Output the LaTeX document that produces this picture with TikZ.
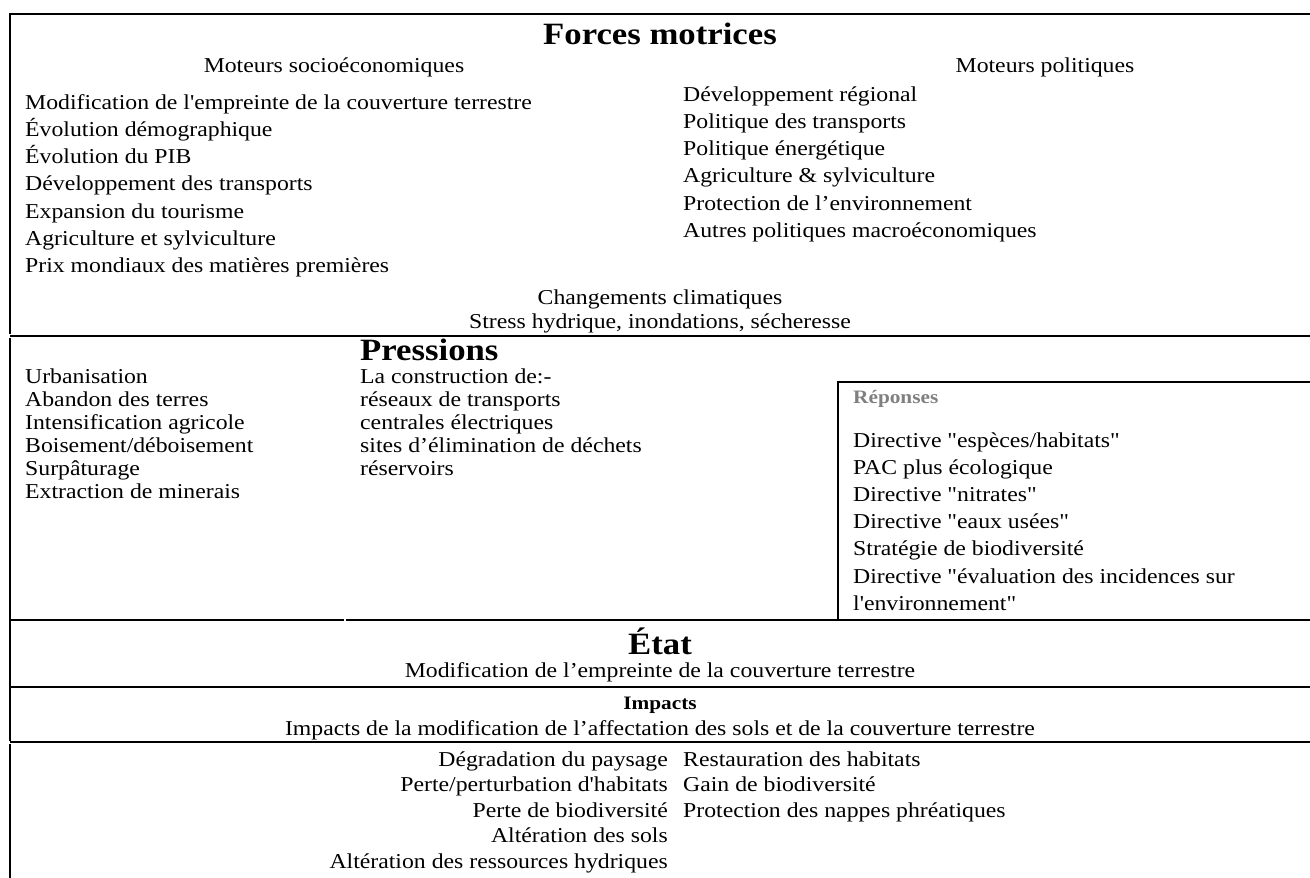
\documentclass[tikz,border=0pt]{standalone}
\usepackage{fontspec}
\setmainfont{Liberation Serif}[Ligatures=TeXOff, FakeStretch=1.12]
\usetikzlibrary{positioning}
\definecolor{gristitre}{RGB}{128,128,128}
\tikzset{
  trait/.style={line width=1.3pt},
  texte/.style={inner sep=0pt, font=\fontsize{21.2}{25}\selectfont},
  titre/.style={inner sep=0pt, font=\fontsize{31}{35}\selectfont\bfseries},
  soustitre/.style={inner sep=0pt, font=\fontsize{19}{23}\selectfont\bfseries},
}

\begin{document}
\begin{tikzpicture}[x=1pt,y=-1pt]
    \useasboundingbox (0,0) rectangle (1310,878);
    % cadres
    \draw[trait] (1310,14) -- (10,14) -- (10,334);
    \draw[trait] (10,336) -- (1310,336);
    \draw[trait] (10,338) -- (10,741);
    \draw[trait] (838,620) -- (838,382) -- (1310,382);
    \draw[trait] (10,620) -- (344,620);
    \draw[trait] (346,620) -- (1310,620);
    \draw[trait] (10,687) -- (1310,687);
    \draw[trait] (10,742) -- (1310,742);
    \draw[trait] (10,744) -- (10,878);

    % forces motrices
    \node[titre, anchor=base] (forces) at (660,45) {Forces motrices};
    \node[texte, anchor=base] (socio) at (334,72) {Moteurs socioéconomiques};
    \node[texte, anchor=base] (politique) at (1045,72) {Moteurs politiques};
    \foreach \t [count=\i from 0] in {{Modification de l'empreinte de la couverture terrestre},
        {Évolution démographique}, {Évolution du PIB}, {Développement des transports},
        {Expansion du tourisme}, {Agriculture et sylviculture},
        {Prix mondiaux des matières premières}}
        \node[texte, anchor=base west] (socio-\i) at (25,109+27.3*\i) {\t};
    \foreach \t [count=\i from 0] in {{Développement régional}, {Politique des transports},
        {Politique énergétique}, {Agriculture \& sylviculture},
        {Protection de l’environnement}, {Autres politiques macroéconomiques}}
        \node[texte, anchor=base west] (politique-\i) at (683,101+27.3*\i) {\t};
    \node[texte, anchor=base] (climat) at (660,304) {Changements climatiques};
    \node[texte, anchor=base] (stress) at (660,328) {Stress hydrique, inondations, sécheresse};

    % pressions
    \node[titre, anchor=base west] (pressions) at (360,360) {Pressions};
    \foreach \t [count=\i from 0] in {Urbanisation, {Abandon des terres},
        {Intensification agricole}, {Boisement/déboisement}, Surpâturage,
        {Extraction de minerais}}
        \node[texte, anchor=base west] (pression-\i) at (25,383+23*\i) {\t};
    \foreach \t [count=\i from 0] in {{La construction de:-}, {réseaux de transports},
        {centrales électriques}, {sites d’élimination de déchets}, réservoirs}
        \node[texte, anchor=base west] (construction-\i) at (360,383+23*\i) {\t};

    % reponses
    \node[soustitre, text=gristitre, anchor=base west] (reponses) at (853,403) {Réponses};
    \foreach \t [count=\i from 0] in {{Directive "espèces/habitats"}, {PAC plus écologique},
        {Directive "nitrates"}, {Directive "eaux usées"}, {Stratégie de biodiversité},
        {Directive "évaluation des incidences sur}, {l'environnement"}}
        \node[texte, anchor=base west] (reponse-\i) at (853,447+27.2*\i) {\t};

    % etat
    \node[titre, anchor=base] (etat) at (660,654) {État};
    \node[texte, anchor=base] (empreinte) at (660,677) {Modification de l’empreinte de la couverture terrestre};

    % impacts
    \node[soustitre, anchor=base] (impacts) at (660,709) {Impacts};
    \node[texte, anchor=base] (affectation) at (660,735) {Impacts de la modification de l’affectation des sols et de la couverture terrestre};
    \foreach \t [count=\i from 0] in {{Dégradation du paysage}, {Perte/perturbation d'habitats},
        {Perte de biodiversité}, {Altération des sols}, {Altération des ressources hydriques}}
        \node[texte, anchor=base east] (negatif-\i) at (668,766+25.5*\i) {\t};
    \foreach \t [count=\i from 0] in {{Restauration des habitats}, {Gain de biodiversité},
        {Protection des nappes phréatiques}}
        \node[texte, anchor=base west] (positif-\i) at (683,766+25.5*\i) {\t};
\end{tikzpicture}
\end{document}
